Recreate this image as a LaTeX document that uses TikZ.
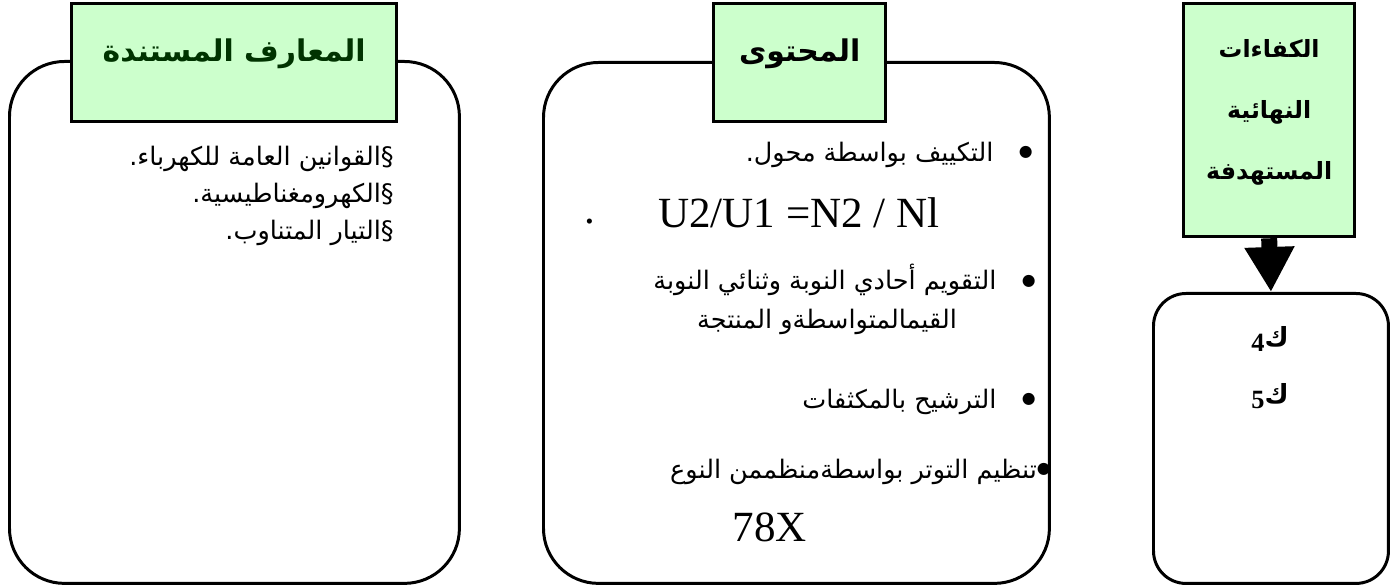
\documentclass[tikz,border=0pt]{standalone}
\usepackage{fontspec}
\setmainfont{Liberation Serif}
\newfontfamily\arabicfont[Script=Arabic]{DejaVu Sans}
\usetikzlibrary{positioning,arrows.meta}
\TeXXeTstate=1
\definecolor{palegreen}{HTML}{CCFFCC}
\definecolor{darkgreen}{HTML}{003300}
\newcommand{\ar}[1]{{\arabicfont\beginR #1\endR}}
\newcommand{\blt}{\raisebox{2.6pt}{\fontsize{9}{9}\selectfont ●}}

\begin{document}
\begin{tikzpicture}[x=0.02cm,y=-0.02cm,
    frame/.style={draw,line width=1.7pt,rounded corners=1.1cm,inner sep=0pt,anchor=north west},
    titlebox/.style={draw,line width=1.9pt,fill=palegreen,inner sep=0pt,anchor=north west,align=center},
    artext/.style={inner sep=0pt,font=\fontsize{14.5}{21}\selectfont},
    latin/.style={inner sep=0pt,font=\fontsize{24.5}{28}\selectfont}]
    \useasboundingbox (0,0) rectangle (1400,587);

    % boxes
    \node[frame,minimum width=9cm,minimum height=10.44cm] (know_box) at (8,60) {};
    \node[frame,minimum width=10.12cm,minimum height=10.42cm] (cont_box) at (542,61) {};
    \node[frame,rounded corners=0.65cm,minimum width=4.7cm,minimum height=5.8cm] (comp_box) at (1152,292) {};

    % titles
    \node[titlebox,minimum width=6.5cm,minimum height=2.36cm,text height=13pt,text depth=14pt,
          font=\bfseries\fontsize{17}{20}\selectfont,text=darkgreen] (know_title) at (70,2)
          {\ar{المعارف المستندة}};
    \node[titlebox,minimum width=3.44cm,minimum height=2.36cm,text height=13pt,text depth=14pt,
          font=\bfseries\fontsize{17}{20}\selectfont] (cont_title) at (712,2)
          {\ar{المحتوى}};
    \node[titlebox,minimum width=3.42cm,minimum height=4.66cm,text depth=12pt,
          font=\bfseries\fontsize{13.5}{34.7}\selectfont] (comp_title) at (1182,2)
          {\ar{الكفاءات}\\\ar{النهائية}\\\ar{المستهدفة}};

    \draw[line width=0.32cm,-{Triangle[width=0.94cm,length=0.9cm]}] (comp_title.south) -- (comp_box.north);

    % left text
    \node[artext,anchor=north east,align=right] (know_list) at (394,146)
      {\ar{§القوانين العامة للكهرباء.}\\\ar{§الكهرومغناطيسية.}\\\ar{§التيار المتناوب.}};

    % middle text
    \node[artext,anchor=east] (c_1) at (1033,155) {\ar{\blt\quad التكييف بواسطة محول.}};
    \node[latin] (c_2) at (799,213) {U2/U1 =N2 / Nl};
    \node[latin] (c_dot) at (590,222) {.};
    \node[artext,anchor=east] (c_3) at (1036,280) {\ar{\blt\quad التقويم أحادي النوبة وثنائي النوبة}};
    \node[artext] (c_4) at (827,322) {\ar{القيمالمتواسطةو المنتجة}};
    \node[artext,anchor=east] (c_5) at (1036,402) {\ar{\blt\quad الترشيح بالمكثفات}};
    \node[artext,anchor=east] (c_6) at (1051,472) {\ar{\blt تنظيم التوتر بواسطةمنظممن النوع}};
    \node[latin] (c_7) at (770,527) {78X};

    % right text
    \node[inner sep=0pt,align=center,font=\bfseries\fontsize{15}{32.4}\selectfont] (comp_list) at (1270,368)
      {\ar{ك\raisebox{-0.35ex}{\rmfamily 4}}\\\ar{ك\raisebox{-0.35ex}{\rmfamily 5}}};
\end{tikzpicture}
\end{document}
